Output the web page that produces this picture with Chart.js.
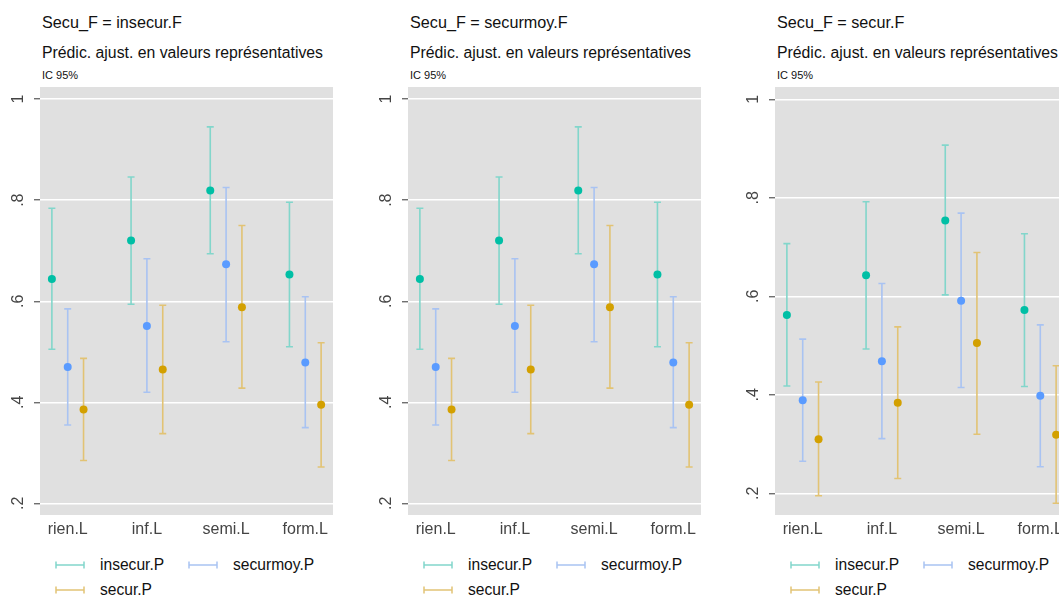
<!DOCTYPE html>
<html lang="fr">
<head>
<meta charset="utf-8">
<script src="https://cdn.jsdelivr.net/npm/chart.js@4.4.1/dist/chart.umd.min.js"></script>
<style>
  html, body { margin: 0; padding: 0; background: #fff; width: 1059px; height: 596px; overflow: hidden; }
  body { position: relative; font-family: "Liberation Sans", Arial, sans-serif; color: #111; }
  .panel { position: absolute; top: 0; width: 367px; height: 596px; }
  .t1 { position: absolute; left: 42px; top: 13px; font-size: 16.2px; }
  .t2 { position: absolute; left: 42px; top: 44px; font-size: 15.8px; }
  .t3 { position: absolute; left: 42px; top: 69px; font-size: 11px; }
  .cv { position: absolute; left: 0; top: 87px; width: 367px; height: 453px; }
  .leg { position: absolute; font-size: 15.6px; display: flex; align-items: center; }
  .leg svg { margin-right: 15px; }
</style>
</head>
<body>
<script>
// ---- données ----
const categories = ["rien.L", "inf.L", "semi.L", "form.L"];
const seriesNames = ["insecur.P", "securmoy.P", "secur.P"];
const panelTitles = ["Secu_F = insecur.F", "Secu_F = securmoy.F", "Secu_F = secur.F"];

// panneaux 1 et 2 (identiques)
const insecurA = [0.644, 0.720, 0.819, 0.653];
const insecurA_lo = [0.505, 0.594, 0.694, 0.510];
const insecurA_hi = [0.784, 0.846, 0.945, 0.796];
const securmoyA = [0.470, 0.551, 0.673, 0.479];
const securmoyA_lo = [0.355, 0.420, 0.520, 0.350];
const securmoyA_hi = [0.585, 0.684, 0.825, 0.609];
const securA = [0.386, 0.465, 0.588, 0.395];
const securA_lo = [0.285, 0.338, 0.428, 0.272];
const securA_hi = [0.487, 0.592, 0.750, 0.518];

// panneau 3
const insecurC = [0.562, 0.643, 0.754, 0.572];
const insecurC_lo = [0.418, 0.493, 0.603, 0.417];
const insecurC_hi = [0.707, 0.792, 0.907, 0.727];
const securmoyC = [0.389, 0.468, 0.591, 0.398];
const securmoyC_lo = [0.265, 0.311, 0.415, 0.254];
const securmoyC_hi = [0.513, 0.626, 0.769, 0.542];
const securC = [0.310, 0.384, 0.505, 0.319];
const securC_lo = [0.195, 0.230, 0.320, 0.180];
const securC_hi = [0.426, 0.538, 0.689, 0.459];

const yTicks = [0.2, 0.4, 0.6, 0.8, 1];
const yRanges = [[0.177, 1.024], [0.177, 1.024], [0.156, 1.025]];

const pointColors = ["#00bfa5", "#5a9bff", "#d3a000"];
const barColors = ["#82d6cb", "#a9c3f2", "#e2c374"];
const offsets = [-0.2, 0, 0.2];

const panelData = [
  [[insecurA, insecurA_lo, insecurA_hi], [securmoyA, securmoyA_lo, securmoyA_hi], [securA, securA_lo, securA_hi]],
  [[insecurA, insecurA_lo, insecurA_hi], [securmoyA, securmoyA_lo, securmoyA_hi], [securA, securA_lo, securA_hi]],
  [[insecurC, insecurC_lo, insecurC_hi], [securmoyC, securmoyC_lo, securmoyC_hi], [securC, securC_lo, securC_hi]]
];
const panelLeft = [0, 368, 735];

/* ---------- plugins ---------- */
const plotBg = {
  id: "plotBg",
  beforeDraw(chart) {
    const a = chart.chartArea, ctx = chart.ctx;
    ctx.save(); ctx.fillStyle = "#e0e0e0";
    ctx.fillRect(a.left, a.top, a.right - a.left, a.bottom - a.top);
    ctx.restore();
  }
};

// barres d'erreur (IC 95%) dessinées via les échelles
const errorBars = {
  id: "errorBars",
  beforeDatasetsDraw(chart) {
    const ctx = chart.ctx, xs = chart.scales.x, ys = chart.scales.y;
    ctx.save();
    chart.data.datasets.forEach(ds => {
      ctx.strokeStyle = ds.barColor; ctx.lineWidth = 1.6;
      ds.data.forEach((p, i) => {
        const x = xs.getPixelForValue(p.x);
        const y1 = ys.getPixelForValue(ds.lo[i]), y2 = ys.getPixelForValue(ds.hi[i]);
        ctx.beginPath();
        ctx.moveTo(x, y1); ctx.lineTo(x, y2);
        ctx.moveTo(x - 3.5, y1); ctx.lineTo(x + 3.5, y1);
        ctx.moveTo(x - 3.5, y2); ctx.lineTo(x + 3.5, y2);
        ctx.stroke();
      });
    });
    ctx.restore();
  }
};

// étiquettes de l'axe y, tournées de 90° (style Stata)
const yLabels = {
  id: "yLabels",
  afterDraw(chart) {
    const ctx = chart.ctx, ys = chart.scales.y;
    ctx.save();
    ctx.fillStyle = "#444";
    ctx.font = '16px "Liberation Sans", Arial, sans-serif';
    ctx.textAlign = "center"; ctx.textBaseline = "middle";
    ys.ticks.forEach(t => {
      const y = ys.getPixelForValue(t.value);
      ctx.save();
      ctx.translate(19, y); ctx.rotate(-Math.PI / 2);
      ctx.fillText(t.value === 1 ? "1" : String(t.value).replace(/^0/, ""), 0, 0);
      ctx.restore();
    });
    ctx.restore();
  }
};

Chart.defaults.font.family = '"Liberation Sans", Arial, sans-serif';
Chart.defaults.color = "#444";

function legendSym(color) {
  return `<svg width="30" height="10"><g stroke="${color}" stroke-width="1.5">
    <line x1="1" y1="5" x2="29" y2="5"/><line x1="1" y1="1.5" x2="1" y2="8.5"/><line x1="29" y1="1.5" x2="29" y2="8.5"/></g></svg>`;
}

panelTitles.forEach((title, k) => {
  const div = document.createElement("div");
  div.className = "panel";
  div.style.left = panelLeft[k] + "px";
  div.innerHTML = `
    <div class="t1">${title}</div>
    <div class="t2">Prédic. ajust. en valeurs représentatives</div>
    <div class="t3">IC 95%</div>
    <div class="cv"><canvas></canvas></div>
    <div class="leg" style="left:55px;top:556px">${legendSym(barColors[0])}${seriesNames[0]}</div>
    <div class="leg" style="left:188px;top:556px">${legendSym(barColors[1])}${seriesNames[1]}</div>
    <div class="leg" style="left:55px;top:581px">${legendSym(barColors[2])}${seriesNames[2]}</div>`;
  document.body.appendChild(div);

  const datasets = panelData[k].map((s, j) => ({
    label: seriesNames[j],
    data: s[0].map((v, i) => ({ x: i + 1 + offsets[j], y: v })),
    lo: s[1], hi: s[2],
    barColor: barColors[j],
    backgroundColor: pointColors[j],
    borderColor: pointColors[j],
    pointRadius: 4, borderWidth: 0
  }));

  new Chart(div.querySelector("canvas"), {
    type: "scatter",
    data: { datasets },
    plugins: [plotBg, errorBars, yLabels],
    options: {
      responsive: true, maintainAspectRatio: false, animation: false,
      layout: { autoPadding: false, padding: { left: 0, right: 34, top: 0, bottom: 0 } },
      plugins: { legend: { display: false }, tooltip: { enabled: false } },
      scales: {
        x: {
          type: "linear", min: 0.65, max: 4.35,
          afterBuildTicks: (s) => { s.ticks = categories.map((c, i) => ({ value: i + 1 })); },
          afterFit: (s) => { s.height = 25; s.paddingLeft = 0; s.paddingRight = 0; },
          grid: { display: false, drawTicks: false },
          border: { display: false },
          ticks: { padding: 5, font: { size: 16 }, color: "#444", maxRotation: 0, minRotation: 0,
            callback: (v) => categories[Math.round(v) - 1] }
        },
        y: {
          min: yRanges[k][0], max: yRanges[k][1],
          afterBuildTicks: (s) => { s.ticks = yTicks.map(v => ({ value: v })); },
          afterFit: (s) => { s.width = 40; s.paddingTop = 0; s.paddingBottom = 0; },
          grid: { color: "#ffffff", lineWidth: 1.5, tickColor: "#555", tickLength: 6, tickWidth: 1.2 },
          border: { display: false },
          ticks: { display: false }
        }
      }
    }
  });
});
</script>
</body>
</html>
